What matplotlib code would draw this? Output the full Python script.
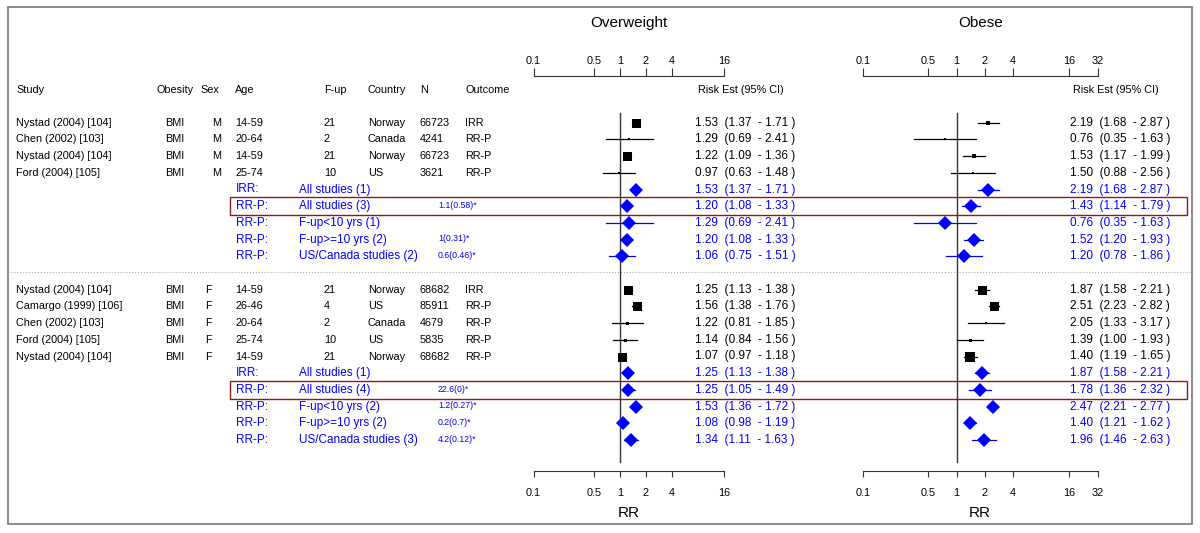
import numpy as np
import matplotlib
matplotlib.use("Agg")
import matplotlib.pyplot as plt
from matplotlib.patches import Rectangle
from matplotlib.ticker import NullLocator

plt.rcParams['font.family'] = ['Liberation Sans', 'DejaVu Sans']

# ---- data ----------------------------------------------------------------
study = ["Nystad (2004) [104]", "Chen (2002) [103]", "Nystad (2004) [104]", "Ford (2004) [105]",
         "Nystad (2004) [104]", "Camargo (1999) [106]", "Chen (2002) [103]", "Ford (2004) [105]",
         "Nystad (2004) [104]"]
obesity = ["BMI"] * 9
sex = ["M", "M", "M", "M", "F", "F", "F", "F", "F"]
age = ["14-59", "20-64", "14-59", "25-74", "14-59", "26-46", "20-64", "25-74", "14-59"]
fup = ["21", "2", "21", "10", "21", "4", "2", "10", "21"]
country = ["Norway", "Canada", "Norway", "US", "Norway", "US", "Canada", "US", "Norway"]
n_subj = ["66723", "4241", "66723", "3621", "68682", "85911", "4679", "5835", "68682"]
outcome = ["IRR", "RR-P", "RR-P", "RR-P", "IRR", "RR-P", "RR-P", "RR-P", "RR-P"]
study_rows = [0, 1, 2, 3, 10, 11, 12, 13, 14]

summ_type = ["IRR:", "RR-P:", "RR-P:", "RR-P:", "RR-P:",
             "IRR:", "RR-P:", "RR-P:", "RR-P:", "RR-P:"]
summ_label = ["All studies (1)", "All studies (3)", "F-up<10 yrs (1)", "F-up>=10 yrs (2)",
              "US/Canada studies (2)", "All studies (1)", "All studies (4)", "F-up<10 yrs (2)",
              "F-up>=10 yrs (2)", "US/Canada studies (3)"]
summ_het = ["", "1.1(0.58)*", "", "1(0.31)*", "0.6(0.46)*",
            "", "22.6(0)*", "1.2(0.27)*", "0.2(0.7)*", "4.2(0.12)*"]
summ_rows = [4, 5, 6, 7, 8, 15, 16, 17, 18, 19]
boxed_rows = [5, 16]

# overweight: studies then summaries
ow_est = [1.53, 1.29, 1.22, 0.97, 1.25, 1.56, 1.22, 1.14, 1.07]
ow_lo = [1.37, 0.69, 1.09, 0.63, 1.13, 1.38, 0.81, 0.84, 0.97]
ow_hi = [1.71, 2.41, 1.36, 1.48, 1.38, 1.76, 1.85, 1.56, 1.18]
ow_s_est = [1.53, 1.20, 1.29, 1.20, 1.06, 1.25, 1.25, 1.53, 1.08, 1.34]
ow_s_lo = [1.37, 1.08, 0.69, 1.08, 0.75, 1.13, 1.05, 1.36, 0.98, 1.11]
ow_s_hi = [1.71, 1.33, 2.41, 1.33, 1.51, 1.38, 1.49, 1.72, 1.19, 1.63]
ow_weight = [9, 2, 9, 2, 9, 9, 3, 3, 9]

# obese
ob_est = [2.19, 0.76, 1.53, 1.50, 1.87, 2.51, 2.05, 1.39, 1.40]
ob_lo = [1.68, 0.35, 1.17, 0.88, 1.58, 2.23, 1.33, 1.00, 1.19]
ob_hi = [2.87, 1.63, 1.99, 2.56, 2.21, 2.82, 3.17, 1.93, 1.65]
ob_s_est = [2.19, 1.43, 0.76, 1.52, 1.20, 1.87, 1.78, 2.47, 1.40, 1.96]
ob_s_lo = [1.68, 1.14, 0.35, 1.20, 0.78, 1.58, 1.36, 2.21, 1.21, 1.46]
ob_s_hi = [2.87, 1.79, 1.63, 1.93, 1.86, 2.21, 2.32, 2.77, 1.62, 2.63]
ob_weight = [5, 2, 4, 2, 9, 9, 2, 3, 10]

ticks_ow = [0.1, 0.5, 1, 2, 4, 16]
ticks_ob = [0.1, 0.5, 1, 2, 4, 16, 32]

# ---- layout ---------------------------------------------------------------
W, H = 1200, 533
Y0, DY = 122.7, 16.7


def row(py):
    # pixel y -> row units
    return (py - Y0) / DY


YLIM = (row(H), row(0))
BLUE = '#0000ff'
DARKRED = '#8b1a1a'
fs = 7.8
fs_risk = 8.5
fs_summ = 8.5

fig = plt.figure(figsize=(12, 5.33), dpi=100)
bg = fig.add_axes([0, 0, 1, 1])
bg.set_xlim(0, W)
bg.set_ylim(*YLIM)
bg.axis('off')

# outer frame
bg.add_patch(Rectangle((7.7, row(7.3)), 1191.7 - 7.7, row(524.3) - row(7.3),
                       fill=False, ec='#777777', lw=1.2))
# separator between men and women
bg.plot([8, 1191], [row(271.7)] * 2, color='#aaaaaa', lw=0.8, ls=':')
# red boxes
for r in boxed_rows:
    bg.add_patch(Rectangle((230, r - 0.55), 1186.7 - 230, 1.1,
                           fill=False, ec=DARKRED, lw=1.0))

# headers
hy = row(90)
for x, t in [(16, "Study"), (156.7, "Obesity"), (200, "Sex"), (235, "Age"), (324, "F-up"),
             (368, "Country"), (420, "N"), (465, "Outcome")]:
    bg.text(x, hy, t, fontsize=fs, va='center', ha='left')
bg.text(698, hy, "Risk Est (95% CI)", fontsize=fs, va='center', ha='left')
bg.text(1073, hy, "Risk Est (95% CI)", fontsize=fs, va='center', ha='left')

for i, r in enumerate(study_rows):
    bg.text(16, r, study[i], fontsize=fs, va='center')
    bg.text(175, r, obesity[i], fontsize=fs, va='center', ha='center')
    bg.text(212 if sex[i] == "M" else 205, r, sex[i], fontsize=fs, va='center')
    bg.text(235, r, age[i], fontsize=fs, va='center')
    bg.text(324, r, fup[i], fontsize=fs, va='center')
    bg.text(368, r, country[i], fontsize=fs, va='center')
    bg.text(420, r, n_subj[i], fontsize=fs, va='center')
    bg.text(465, r, outcome[i], fontsize=fs, va='center')
    bg.text(695, r, "%.2f  (%.2f  - %.2f )" % (ow_est[i], ow_lo[i], ow_hi[i]),
            fontsize=fs_risk, va='center')
    bg.text(1070, r, "%.2f  (%.2f  - %.2f )" % (ob_est[i], ob_lo[i], ob_hi[i]),
            fontsize=fs_risk, va='center')

for i, r in enumerate(summ_rows):
    bg.text(236, r, summ_type[i], fontsize=fs_summ, va='center', color=BLUE)
    bg.text(299, r, summ_label[i], fontsize=fs_summ, va='center', color=BLUE)
    bg.text(438, r - 0.05, summ_het[i], fontsize=6.3, va='center', color=BLUE)
    bg.text(695, r, "%.2f  (%.2f  - %.2f )" % (ow_s_est[i], ow_s_lo[i], ow_s_hi[i]),
            fontsize=fs_risk, va='center', color=BLUE)
    bg.text(1070, r, "%.2f  (%.2f  - %.2f )" % (ob_s_est[i], ob_s_lo[i], ob_s_hi[i]),
            fontsize=fs_risk, va='center', color=BLUE)


def forest(px0, px1, xmax, ticks, title, est, lo, hi, wt, s_est, s_lo, s_hi):
    ax = fig.add_axes([px0 / W, 0, (px1 - px0) / W, 1])
    ax.set_xscale('log')
    ax.set_xlim(0.1, xmax)
    ax.set_ylim(*YLIM)
    ax.patch.set_visible(False)
    for s in ['left', 'right', 'top']:
        ax.spines[s].set_visible(False)
    ax.spines['bottom'].set_position(('data', row(471)))
    ax.spines['bottom'].set_color('#333333')
    ax.set_yticks([])
    ax.set_xticks(ticks)
    ax.set_xticklabels(["%g" % t for t in ticks])
    ax.xaxis.set_minor_locator(NullLocator())
    ax.tick_params(axis='x', direction='out', length=4, pad=8, labelsize=fs, color='#333333')
    ax.set_xlabel("RR", fontsize=11, labelpad=6)

    # top scale
    top = ax.twiny()
    top.set_xscale('log')
    top.set_xlim(0.1, xmax)
    top.set_ylim(*YLIM)
    for s in ['left', 'right', 'bottom']:
        top.spines[s].set_visible(False)
    top.spines['top'].set_position(('data', row(76)))
    top.spines['top'].set_color('#333333')
    top.set_xticks(ticks)
    top.set_xticklabels(["%g" % t for t in ticks])
    top.xaxis.set_minor_locator(NullLocator())
    top.tick_params(axis='x', direction='out', length=5.5, pad=1.5, labelsize=fs, color='#333333')

    ax.text(0.5, 1 - 23 / H, title, transform=ax.transAxes, fontsize=11, ha='center', va='center')

    ax.plot([1, 1], [row(113), row(461.7)], color='#333333', lw=1)
    for i, r in enumerate(study_rows):
        ax.plot([lo[i], hi[i]], [r, r], color='black', lw=0.9)
        ax.plot([est[i]], [r], marker='s', color='black', ms=wt[i] * 0.72, mew=0)
    for i, r in enumerate(summ_rows):
        ax.plot([s_lo[i], s_hi[i]], [r, r], color=BLUE, lw=0.9)
        ax.plot([s_est[i]], [r], marker='D', color=BLUE, ms=7.2, mew=0)
    return ax


ax1 = forest(533.5, 724, 16, ticks_ow, "Overweight", ow_est, ow_lo, ow_hi, ow_weight,
             ow_s_est, ow_s_lo, ow_s_hi)
ax2 = forest(862.7, 1097.7, 32, ticks_ob, "Obese", ob_est, ob_lo, ob_hi, ob_weight,
             ob_s_est, ob_s_lo, ob_s_hi)

fig.savefig("out.png", dpi=100)
